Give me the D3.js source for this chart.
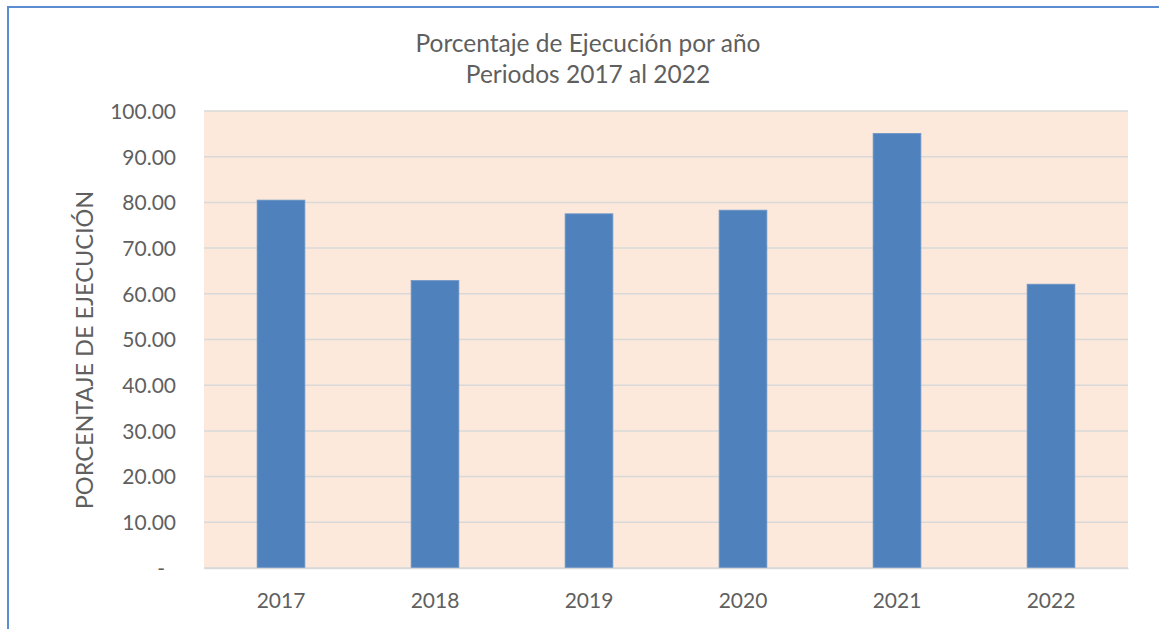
<!DOCTYPE html>
<html>
<head>
<meta charset="utf-8">
<script src="https://cdn.jsdelivr.net/npm/d3@7"></script>
<style>
  body { margin: 0; background: #fff; }
  svg text { font-family: Lato, "Open Sans", sans-serif; fill: #5f5f5f; }
</style>
</head>
<body>
<svg id="chart"></svg>
<script>
// data
var years = ["2017", "2018", "2019", "2020", "2021", "2022"];
var porcentajes = [80.5, 62.9, 77.5, 78.3, 95.1, 62.1];
var yTicks = [0, 10, 20, 30, 40, 50, 60, 70, 80, 90, 100];
var titleLines = ["Porcentaje de Ejecución por año", "Periodos 2017 al 2022"];
var yTitle = "PORCENTAJE DE EJECUCIÓN";

var width = 1159,
    height = 629;

var margin = {top: 111, right: 31, bottom: 61, left: 204};
var plotW = width - margin.left - margin.right,
    plotH = height - margin.top - margin.bottom;

var svg = d3.select("#chart")
    .attr("width", width)
    .attr("height", height);

// outer chart border (runs off the right and bottom edges)
svg.append("rect")
    .attr("x", 8)
    .attr("y", 7)
    .attr("width", width + 20)
    .attr("height", height + 20)
    .attr("fill", "none")
    .attr("stroke", "#5b8bd0")
    .attr("stroke-width", 2);

var x = d3.scaleBand()
    .domain(years)
    .range([0, plotW])
    .paddingInner(0.69)
    .paddingOuter(0.345);

var y = d3.scaleLinear()
    .domain([0, 100])
    .range([plotH, 0]);

var g = svg.append("g")
    .attr("transform", "translate(" + margin.left + "," + margin.top + ")");

g.append("rect")
    .attr("width", plotW)
    .attr("height", plotH)
    .attr("fill", "#fce9db");

// gridlines
g.selectAll(".grid")
    .data(yTicks)
    .enter()
    .append("line")
    .attr("class", "grid")
    .attr("x1", 0)
    .attr("x2", plotW)
    .attr("y1", function(d) { return y(d); })
    .attr("y2", function(d) { return y(d); })
    .attr("stroke", "#d9d9d9")
    .attr("stroke-width", 1.5);

g.selectAll(".bar")
    .data(porcentajes)
    .enter()
    .append("rect")
    .attr("class", "bar")
    .attr("x", function(d, i) { return x(years[i]); })
    .attr("y", function(d) { return y(d); })
    .attr("width", x.bandwidth())
    .attr("height", function(d) { return plotH - y(d); })
    .attr("fill", "#4f81bd")
    .attr("stroke", "#6f97c8")
    .attr("stroke-width", 0.8);

// y axis
var fmt = d3.format(".2f");
var yAxis = g.append("g")
    .call(d3.axisLeft(y)
        .tickValues(yTicks)
        .tickSize(0)
        .tickPadding(28)
        .tickFormat(function(d) { return d === 0 ? "-" : fmt(d); }));
yAxis.select(".domain").remove();
yAxis.selectAll("text")
    .attr("font-size", 21)
    .attr("dy", "0.35em")
    .attr("dx", function(d) { return d === 0 ? -11 : 0; })
    .style("font-family", "Lato, sans-serif")
    .attr("fill", "#5f5f5f");

// x axis
var xAxis = g.append("g")
    .attr("transform", "translate(0," + plotH + ")")
    .call(d3.axisBottom(x).tickSize(0).tickPadding(25));
xAxis.select(".domain")
    .attr("stroke", "#d9d9d9")
    .attr("stroke-width", 1.5);
xAxis.selectAll("text")
    .attr("font-size", 21)
    .attr("dy", "0.71em")
    .style("font-family", "Lato, sans-serif")
    .attr("fill", "#5f5f5f");

// titles
svg.append("g")
    .selectAll("text")
    .data(titleLines)
    .enter()
    .append("text")
    .attr("x", 588)
    .attr("y", function(d, i) { return 52 + i * 31; })
    .attr("text-anchor", "middle")
    .attr("font-size", 24.5)
    .text(function(d) { return d; });

svg.append("text")
    .attr("transform", "translate(93,350) rotate(-90)")
    .attr("text-anchor", "middle")
    .attr("font-size", 23.5)
    .text(yTitle);
</script>
</body>
</html>
